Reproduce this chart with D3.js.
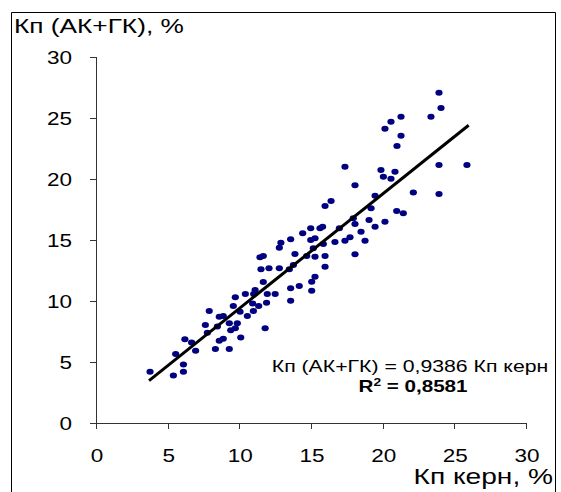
<!DOCTYPE html>
<html><head><meta charset="utf-8">
<script src="https://cdn.jsdelivr.net/npm/d3@7"></script>
<style>
html,body{margin:0;padding:0;background:#fff;}
svg{display:block;font-family:"Liberation Sans",Arial,sans-serif;}
</style></head>
<body>
<svg id="c" width="561" height="492"></svg>
<script>
// data: [Кп керн, Кп (АК+ГК)]
const xValues = [3.77,5.4,6.1,6.1,5.56,6.2,6.67,6.95,8.33,9.3,8.6,8.88,10.1,7.77,7.63,8.47,7.9,9.3,9.4,9.72,9.86,8.6,8.88,9.58,10.05,10.56,10.98,11.8,9.72,10.42,11.1,11.0,10.93,11.35,11.9,11.95,12.5,11.67,
13.58,12.9,12.79,11.44,11.67,13.88,11.51,12.07,12.79,13.49,13.77,13.58,14.18,13.58,15.05,15.05,15.28,15.98,
17.37,19.88,20.05,20.58,20.86,23.93,23.93,22.14,18.07,19.47,19.19,20.98,21.44,20.16,19.47,19.05,17.95,18.07,18.49,18.77,17.72,17.37,16.98,16.4,15.98,16.67,15.86,15.28,14.98,15.81,14.98,15.63,14.42,15.16,15.98,15.28,14.7,18.07,
23.93,24.07,23.37,21.28,20.58,20.16,21.28,21.0,25.88];
const yValues = [4.2,3.9,4.2,4.8,5.65,6.86,6.6,5.93,6.07,6.07,6.75,6.9,7.0,7.4,8.03,7.9,9.18,8.17,7.6,7.76,8.17,8.7,8.77,9.6,9.12,8.77,9.18,7.76,10.3,10.57,10.9,10.57,9.8,9.6,9.86,10.57,10.57,11.56,
15.06,14.78,14.37,13.58,13.69,13.85,12.6,12.68,12.68,12.6,12.95,11.04,11.23,10.03,10.85,11.58,11.99,12.81,
21.0,20.74,20.19,20.03,20.6,21.15,18.77,18.9,19.48,18.63,17.6,17.38,17.19,16.5,16.09,16.64,16.78,16.31,15.68,14.94,15.22,14.94,15.96,18.2,17.79,14.84,14.67,15.14,15.0,16.09,15.96,15.96,15.55,14.32,13.69,13.63,13.69,13.83,
27.07,25.82,25.11,25.11,24.7,24.12,23.55,22.7,21.15];
const xTicks = [0,5,10,15,20,25,30];
const yTicks = [0,5,10,15,20,25,30];
const slope = 0.9386;
const fitRange = [3.7, 26];
const yTitle = "Кп (АК+ГК), %";
const xTitle = "Кп керн, %";
const eqText = "Кп (АК+ГК) = 0,9386 Кп керн";
const r2Value = "0,8581";

const svg = d3.select("#c");
const SX = 1.25; // horizontal stretch of original picture
const x = d3.scaleLinear().domain([0,30]).range([96,526]);
const y = d3.scaleLinear().domain([0,30]).range([423,57]);

// frame
svg.append("path").attr("d","M11.5,492 V12.5 H555.5 V492").attr("fill","none").attr("stroke","#000").attr("stroke-width",1);

// axes
const ax = svg.append("g").attr("stroke","#333").attr("fill","none").attr("shape-rendering","crispEdges");
ax.append("line").attr("x1",x(0)).attr("x2",x(30)).attr("y1",y(0)+0.5).attr("y2",y(0)+0.5);
ax.append("line").attr("x1",x(0)+0.5).attr("x2",x(0)+0.5).attr("y1",y(30)).attr("y2",y(0));
xTicks.forEach(t=>{
  ax.append("line").attr("x1",Math.round(x(t))+0.5).attr("x2",Math.round(x(t))+0.5).attr("y1",y(0)).attr("y2",y(0)+6);
});
yTicks.forEach(t=>{
  ax.append("line").attr("x1",x(0)-6).attr("x2",x(0)).attr("y1",Math.round(y(t))+0.5).attr("y2",Math.round(y(t))+0.5);
});

function stext(tx,ty,str,size,anchor,weight){
  return svg.append("text").attr("transform",`translate(${tx},${ty}) scale(${SX},1)`)
    .attr("text-anchor",anchor).attr("font-size",size).attr("font-weight",weight||"normal")
    .attr("fill","#000").text(str);
}
xTicks.forEach(t=>stext(x(t)+1,462,String(t),18,"middle"));
yTicks.forEach(t=>stext(72,y(t)+6.5,String(t),18,"end"));
stext(14,33,yTitle,21,"start");
stext(553,484,xTitle,22.5,"end");

// points
svg.append("g").selectAll("ellipse").data(xValues.map((v,i)=>[v,yValues[i]])).join("ellipse")
  .attr("cx",d=>x(d[0])).attr("cy",d=>y(d[1])).attr("rx",3.6).attr("ry",3).attr("fill","#000080");

// trend line
svg.append("line").attr("x1",x(fitRange[0])).attr("y1",y(fitRange[0]*slope))
  .attr("x2",x(fitRange[1])).attr("y2",y(fitRange[1]*slope))
  .attr("stroke","#000").attr("stroke-width",3);

stext(410,372,eqText,17,"middle");
const r2 = svg.append("text").attr("transform",`translate(413,392) scale(${SX},1)`)
  .attr("text-anchor","middle").attr("font-size",16.5).attr("font-weight","bold").attr("fill","#000");
r2.append("tspan").text("R");
r2.append("tspan").attr("font-size",11).attr("dy",-6).text("2");
r2.append("tspan").attr("dy",6).text(" = " + r2Value);
</script>
</body></html>
